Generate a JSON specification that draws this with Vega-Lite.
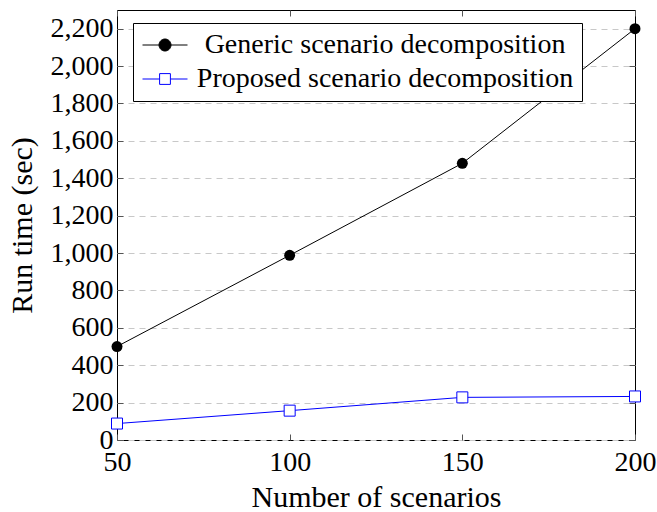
{
  "$schema": "https://vega.github.io/schema/vega-lite/v6.json",
  "width": 518,
  "height": 430,
  "padding": {"left": 117, "top": 10, "right": 22, "bottom": 72},
  "autosize": {"type": "none"},
  "config": {
    "view": {"stroke": "black", "strokeWidth": 1},
    "font": "Liberation Serif",
    "axis": {"labelFont": "Liberation Serif", "titleFont": "Liberation Serif", "labelFontSize": 28, "titleFontSize": 30, "titleFontWeight": "normal", "labelColor": "black", "titleColor": "black", "domain": false, "tickColor": "#555", "tickSize": -6, "labelFlush": false}
  },
  "data": {"values": [
    {"n": 50, "time": 500, "series": "Generic scenario decomposition"},
    {"n": 100, "time": 988, "series": "Generic scenario decomposition"},
    {"n": 150, "time": 1480, "series": "Generic scenario decomposition"},
    {"n": 200, "time": 2200, "series": "Generic scenario decomposition"},
    {"n": 50, "time": 88, "series": "Proposed scenario decomposition"},
    {"n": 100, "time": 157, "series": "Proposed scenario decomposition"},
    {"n": 150, "time": 228, "series": "Proposed scenario decomposition"},
    {"n": 200, "time": 233, "series": "Proposed scenario decomposition"}
  ]},
  "layer": [
    {
      "transform": [{"filter": "datum.n < 0"}],
      "mark": {"type": "point", "strokeWidth": 1, "opacity": 1, "size": 144},
      "encoding": {
        "x": {"field": "n", "type": "quantitative", "scale": {"domain": [50, 200], "nice": false, "zero": false}, "axis": null},
        "y": {"field": "time", "type": "quantitative", "scale": {"domain": [0, 2300], "nice": false}, "axis": null},
        "shape": {"field": "series", "type": "nominal",
          "scale": {"domain": ["Generic scenario decomposition", "Proposed scenario decomposition"], "range": ["M-3.75,0H3.75M-1,0A1,1,0,1,1,1,0A1,1,0,1,1,-1,0Z", "M-3.75,0H-0.9M0.9,0H3.75M-0.9,-0.9H0.9V0.9H-0.9Z"]},
          "legend": {
            "title": null, "orient": "none", "legendX": 16, "legendY": 13,
            "strokeColor": "black", "fillColor": "white", "padding": 8,
            "symbolSize": 144, "symbolOffset": 10, "labelOffset": 206, "labelAlign": "center",
            "symbolStrokeWidth": 1, "symbolOpacity": 1,
            "labelFont": "Liberation Serif", "labelFontSize": 28, "labelColor": "black", "rowPadding": 6, "labelLimit": 500
          }},
        "stroke": {"field": "series", "type": "nominal", "scale": {"domain": ["Generic scenario decomposition", "Proposed scenario decomposition"], "range": ["black", "blue"]}},
        "fill": {"field": "series", "type": "nominal", "scale": {"domain": ["Generic scenario decomposition", "Proposed scenario decomposition"], "range": ["black", "white"]}}
      }
    },
    {
      "mark": {"type": "line", "strokeWidth": 1, "clip": false},
      "encoding": {
        "x": {"field": "n", "type": "quantitative",
          "axis": {"orient": "bottom", "values": [50, 100, 150, 200], "grid": false, "title": "Number of scenarios", "labelPadding": 14, "titlePadding": 6, "format": "d"}},
        "y": {"field": "time", "type": "quantitative",
          "axis": {"orient": "left", "values": [0, 200, 400, 600, 800, 1000, 1200, 1400, 1600, 1800, 2000, 2200], "format": ",d", "grid": true, "gridDash": [6, 5], "gridColor": "#c8c8c8", "gridWidth": 1, "title": "Run time (sec)", "labelPadding": 10, "titlePadding": 13}},
        "stroke": {"field": "series", "type": "nominal"}
      }
    },
    {
      "transform": [{"filter": "datum.series === 'Generic scenario decomposition'"}],
      "mark": {"type": "point", "shape": "circle", "filled": true, "color": "black", "strokeWidth": 1, "opacity": 1, "size": 120, "clip": false},
      "encoding": {
        "x": {"field": "n", "type": "quantitative", "axis": {"orient": "top", "values": [50, 100, 150, 200], "labels": false, "title": null, "grid": false}},
        "y": {"field": "time", "type": "quantitative", "axis": {"orient": "right", "values": [0, 200, 400, 600, 800, 1000, 1200, 1400, 1600, 1800, 2000, 2200], "labels": false, "title": null, "grid": false}}
      }
    },
    {
      "transform": [{"filter": "datum.series === 'Proposed scenario decomposition'"}],
      "mark": {"type": "point", "shape": "square", "fill": "white", "stroke": "blue", "filled": false, "strokeWidth": 1, "opacity": 1, "size": 121, "clip": false},
      "encoding": {
        "x": {"field": "n", "type": "quantitative", "axis": null},
        "y": {"field": "time", "type": "quantitative", "axis": null}
      }
    }
  ],
  "resolve": {"axis": {"x": "independent", "y": "independent"}}
}
